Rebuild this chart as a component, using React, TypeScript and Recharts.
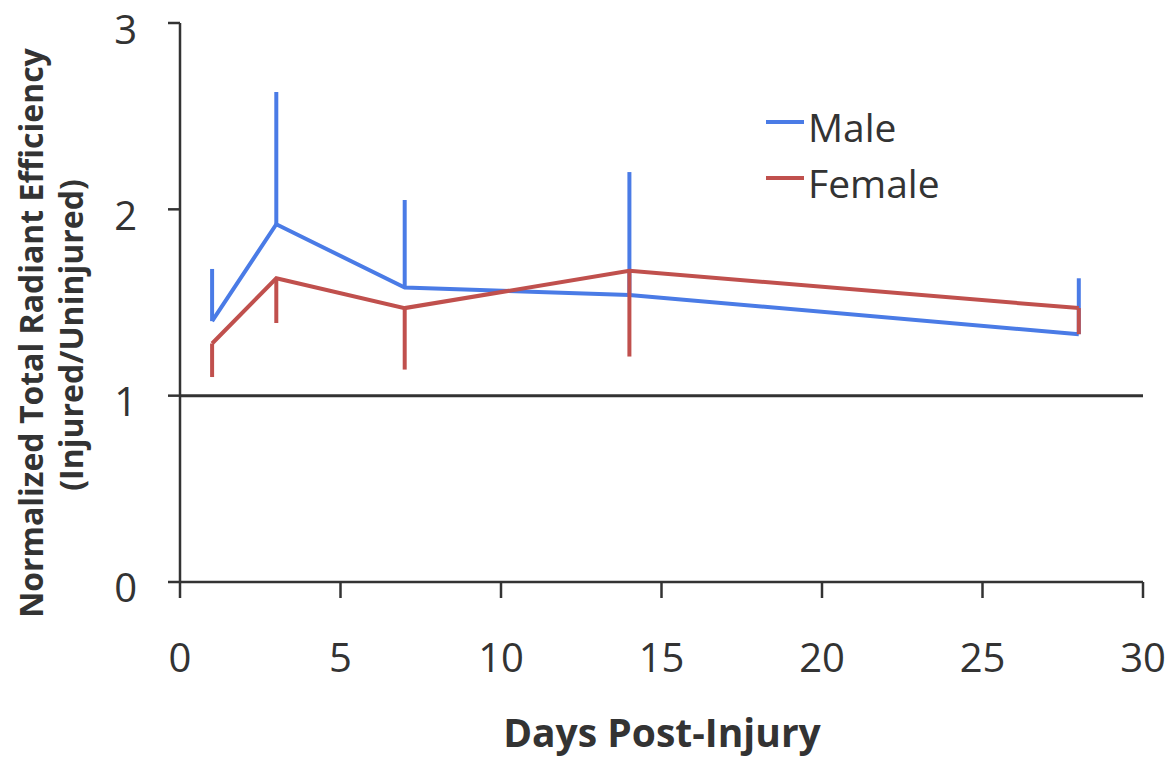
import {
  ErrorBar,
  Legend,
  Line,
  LineChart,
  ReferenceLine,
  XAxis,
  YAxis,
} from "recharts";

const days = [1, 3, 7, 14, 28];
const maleMean = [1.4, 1.92, 1.58, 1.54, 1.33];
const maleUpperErr = [0.28, 0.71, 0.47, 0.66, 0.3];
const femaleMean = [1.28, 1.63, 1.47, 1.67, 1.47];
const femaleLowerErr = [0.18, 0.24, 0.33, 0.46, 0.14];
const xTicks = [0, 5, 10, 15, 20, 25, 30];
const yTicks = [0, 1, 2, 3];

const BLUE = "#4a7be6";
const RED = "#c0504d";
const AXIS = "#333";
const FONT = "'Open Sans', 'Noto Sans', sans-serif";

const data = days.map((d, i) => ({
  day: d,
  male: maleMean[i],
  maleErr: [0, maleUpperErr[i]],
  female: femaleMean[i],
  femaleErr: [femaleLowerErr[i], 0],
}));

const legendItems = [
  { name: "Male", color: BLUE },
  { name: "Female", color: RED },
];

const renderLegend = () => (
  <div style={{ fontFamily: FONT, fontSize: 39, color: "#333", lineHeight: "56px" }}>
    {legendItems.map((it) => (
      <div key={it.name} style={{ display: "flex", alignItems: "center" }}>
        <span style={{ display: "inline-block", width: 38, height: 4, background: it.color, marginRight: 4, marginTop: -10 }} />
        <span>{it.name}</span>
      </div>
    ))}
  </div>
);

// two-line rotated axis title
const yLabel = () => (
  <g fontFamily={FONT} fontWeight="bold" fontSize={32} fill="#333">
    <text x={30} y={333} textAnchor="middle" dominantBaseline="central" transform="rotate(-90 30 333)">
      Normalized Total Radiant Efficiency
    </text>
    <text x={70} y={335} textAnchor="middle" dominantBaseline="central" transform="rotate(-90 70 335)">
      (Injured/Uninjured)
    </text>
  </g>
);

const xLabel = () => (
  <text x={662} y={747} textAnchor="middle" fontFamily={FONT} fontWeight="bold" fontSize={39} fill="#333">
    Days Post-Injury
  </text>
);

export default function App() {
  return (
    <div style={{ position: "absolute", left: 0, top: 0, background: "#fff" }}>
      <LineChart width={1175} height={761} data={data} margin={{ top: 23, right: 32, bottom: 0, left: 0 }}>
        <XAxis
          type="number"
          dataKey="day"
          domain={[0, 30]}
          ticks={xTicks}
          height={179}
          stroke={AXIS}
          strokeWidth={2.5}
          tickSize={16}
          tickMargin={46}
          tick={{ fill: "#333", fontSize: 40, fontFamily: FONT }}
          label={{ content: xLabel }}
        />
        <YAxis
          type="number"
          domain={[0, 3]}
          ticks={yTicks}
          width={180}
          stroke={AXIS}
          strokeWidth={2.5}
          tickSize={12}
          tickMargin={31}
          tick={{ fill: "#333", fontSize: 40, fontFamily: FONT, dy: 6 }}
          label={{ content: yLabel }}
        />
        <ReferenceLine y={1} stroke={AXIS} strokeWidth={3} />
        <Legend
          content={renderLegend}
          layout="vertical"
          verticalAlign="middle"
          align="center"
          wrapperStyle={{ left: 766, top: 99, width: 220 }}
        />
        <Line
          dataKey="male"
          name="Male"
          stroke={BLUE}
          strokeWidth={4}
          dot={false}
          isAnimationActive={false}
        >
          <ErrorBar dataKey="maleErr" direction="y" width={0} stroke={BLUE} strokeWidth={4} isAnimationActive={false} />
        </Line>
        <Line
          dataKey="female"
          name="Female"
          stroke={RED}
          strokeWidth={4}
          dot={false}
          isAnimationActive={false}
        >
          <ErrorBar dataKey="femaleErr" direction="y" width={0} stroke={RED} strokeWidth={4} isAnimationActive={false} />
        </Line>
      </LineChart>
    </div>
  );
}
